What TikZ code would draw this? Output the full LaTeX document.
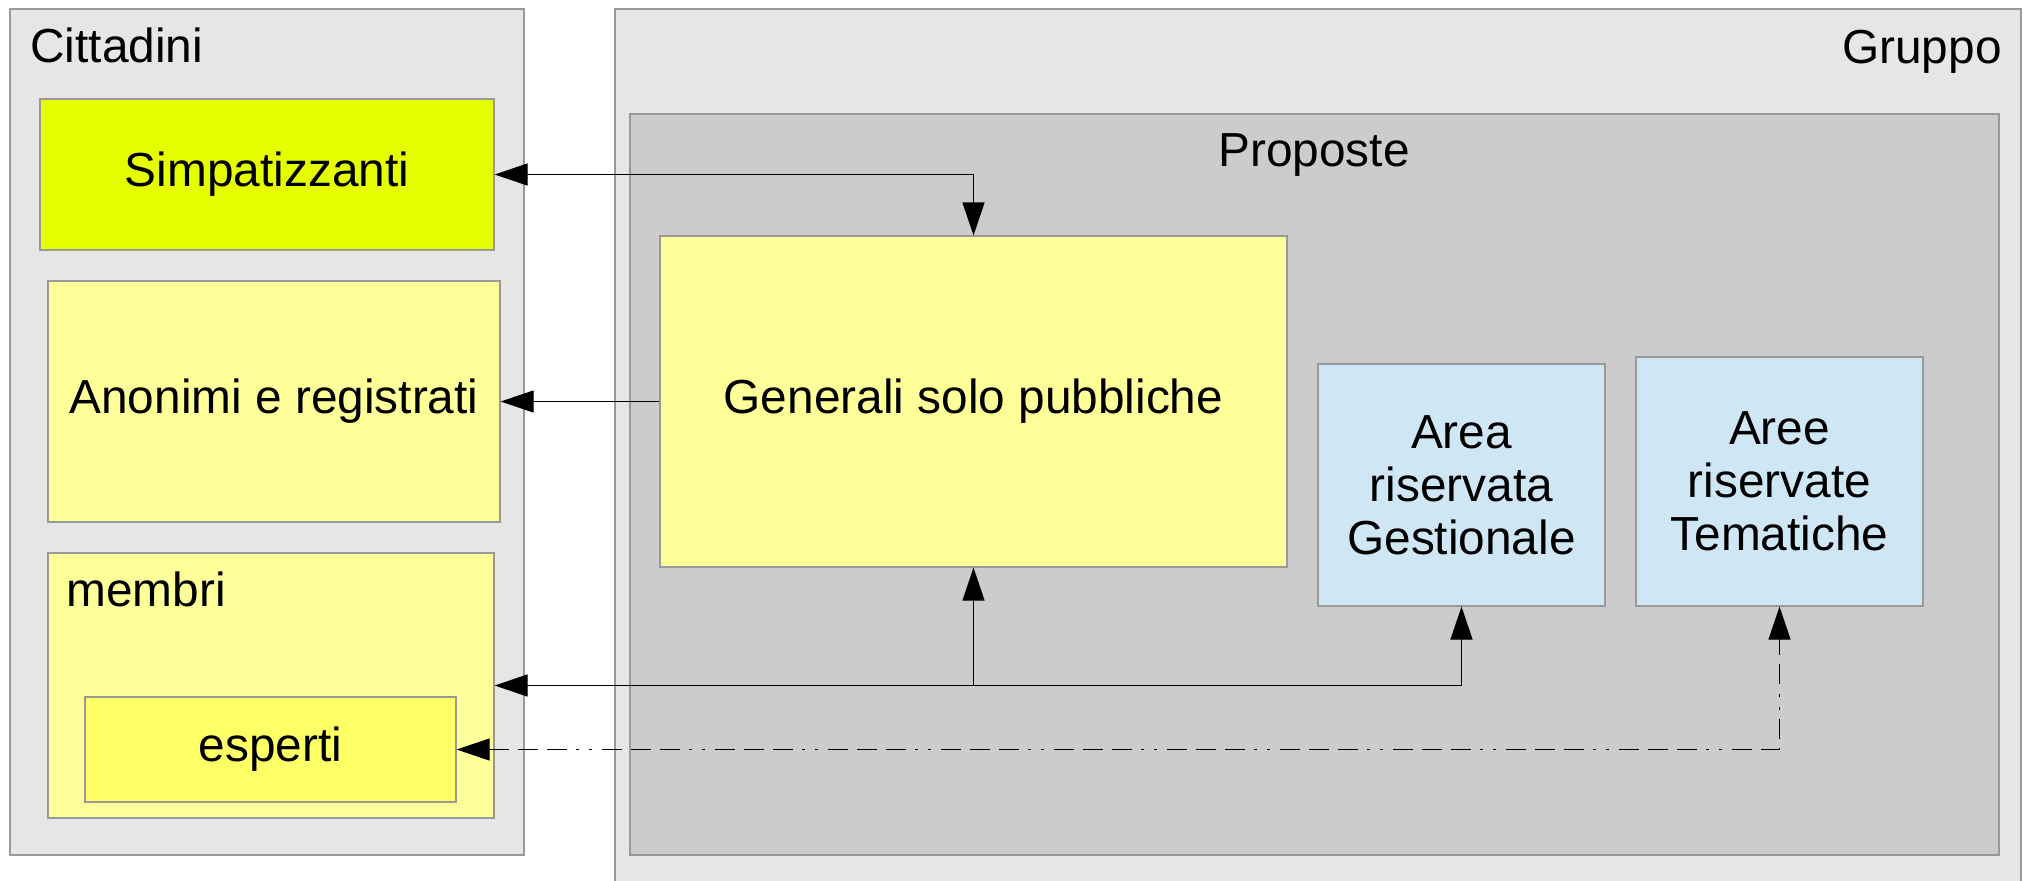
\documentclass[tikz,border=0pt]{standalone}
\usepackage{fontspec}
\setmainfont{Liberation Sans}
\usetikzlibrary{positioning, arrows.meta}
\definecolor{bordo}{HTML}{999999}
\definecolor{grigio}{HTML}{E6E6E6}
\definecolor{grigioscuro}{HTML}{CCCCCC}
\definecolor{lime}{HTML}{E6FF00}
\definecolor{giallino}{HTML}{FFFF99}
\definecolor{giallo}{HTML}{FFFF66}
\definecolor{azzurro}{HTML}{CFE7F5}

\begin{document}
\begin{tikzpicture}[x=0.5pt,y=-0.5pt,
  font=\fontsize{23.9}{26.5}\selectfont,
  >={Triangle[length=16.5pt,width=11pt]},
  box/.style={draw=bordo,line width=0.6pt,inner sep=0pt,align=center},
  arr/.style={line width=0.6pt,->},
  dashdot/.style={dash pattern=on 10pt off 4.5pt on 10pt off 4.5pt on 10pt off 4.5pt on 1.5pt off 5pt on 1.5pt off 5pt}]
\useasboundingbox (0,0) rectangle (2027,880);
% contenitori
\node[box,fill=grigio,minimum width=257pt,minimum height=423pt] (cit) at (267,432) {};
\node[box,fill=grigio,minimum width=703pt,minimum height=445.5pt] (grp) at (1318,454.5) {};
\node[box,fill=grigioscuro,minimum width=684.5pt,minimum height=370.5pt] (prop) at (1314.5,484.5) {};
\node[anchor=base west,inner sep=0pt] (citlab) at (30,62) {Cittadini};
\node[anchor=base east,inner sep=0pt] (grplab) at (2002,63) {Gruppo};
\node[anchor=base,inner sep=0pt] (proplab) at (1314,166) {Proposte};
% cittadini
\node[box,fill=lime,minimum width=227pt,minimum height=75.5pt] (simp) at (267,174.5) {Simpatizzanti};
\node[box,fill=giallino,minimum width=226pt,minimum height=120.5pt] (anon) at (274,401.5) {Anonimi e registrati};
\node[box,fill=giallino,minimum width=223pt,minimum height=132.5pt] (memb) at (271,685.5) {};
\node[anchor=base west,inner sep=0pt] (memblab) at (66,606) {membri};
\node[box,fill=giallo,minimum width=185.5pt,minimum height=52.5pt] (esp) at (270.5,749.5) {esperti};
% proposte
\node[box,fill=giallino,minimum width=313.5pt,minimum height=165.5pt] (gen) at (973.5,401.5) {Generali solo pubbliche};
\node[box,fill=azzurro,minimum width=143.5pt,minimum height=121pt] (gest) at (1461.5,485) {Area\\riservata\\Gestionale};
\node[box,fill=azzurro,minimum width=143.5pt,minimum height=124.5pt] (tem) at (1779.5,481.5) {Aree\\riservate\\Tematiche};
% collegamenti
\draw[arr,<->] (simp.east) -| (gen.north);
\draw[arr] (gen.west) -- (anon.east);
\draw[arr,<->] (gest.south) |- (memb.east);
\coordinate (snodo) at (memb.east -| gen.south);
\draw[arr] (snodo) -- (gen.south);
\draw[arr,<->,dashdot] (esp.east) -| (tem.south);
\end{tikzpicture}
\end{document}
